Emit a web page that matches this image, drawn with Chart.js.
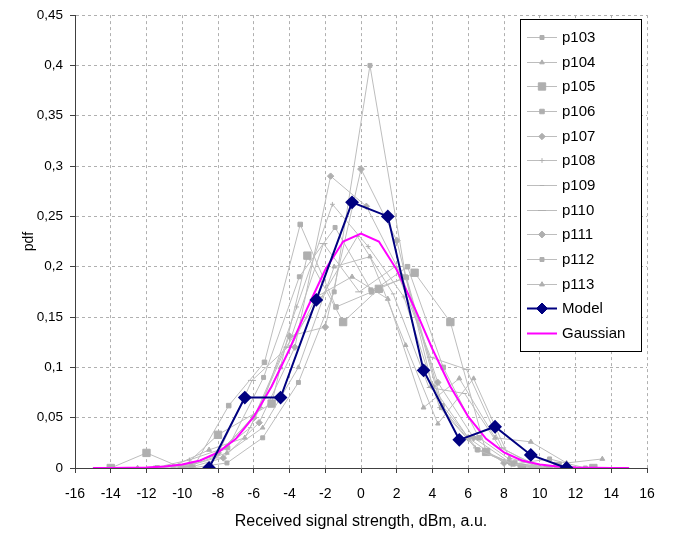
<!DOCTYPE html>
<html>
<head>
<meta charset="utf-8">
<script src="https://cdn.jsdelivr.net/npm/chart.js@4/dist/chart.umd.min.js"></script>
<style>
html,body{margin:0;padding:0;background:#fff;}
#wrap{width:681px;height:535px;position:relative;}
</style>
</head>
<body>
<div id="wrap"><canvas id="c" width="681" height="535"></canvas></div>
<script>
// ---- data ----
const seriesNames = ["p103","p104","p105","p106","p107","p108","p109","p110","p111","p112","p113","Model","Gaussian"];

const p103X = [-9.5,-7.5,-5.5,-3.5,-1.5,0.5,2.5,4.5,6.5,8.5,10.5];
const p103Y = [0,0.005,0.03,0.085,0.175,0.40,0.19,0.06,0.018,0.004,0];

const p104X = [-11.5,-9.5,-7.5,-5.5,-3.5,-1.5,0.5,2.5,4.3,6.3,8.3,10.3];
const p104Y = [0,0.003,0.015,0.04,0.1,0.2,0.21,0.122,0.044,0.089,0.01,0];

const p105X = [-14,-12,-10,-8,-5,-3,-1,1,3,5,7,9,11,13];
const p105Y = [0,0.015,0,0.033,0.064,0.211,0.145,0.178,0.194,0.145,0.016,0,0.002,0];

const p106X = [-11.4,-9.4,-7.4,-5.4,-3.4,-1.4,0.6,2.6,4.6,6.6,8.6,10.6];
const p106Y = [0,0,0.062,0.105,0.242,0.16,0.175,0.2,0.1,0.03,0.005,0];

const p107X = [-9.7,-7.7,-5.7,-3.7,-1.7,0.3,2.3,4.3,6.3,8.3,10.3];
const p107Y = [0,0.01,0.045,0.12,0.29,0.26,0.19,0.085,0.03,0.006,0];

const p108X = [-11.6,-9.6,-7.6,-5.6,-3.6,-1.6,0.4,2.4,4.4,6.4,8.4,10.4];
const p108Y = [0,0.008,0.02,0.06,0.16,0.262,0.22,0.17,0.06,0.02,0.003,0];

const p109X = [-10.2,-8.2,-6.2,-4.2,-2.2,-0.2,1.8,3.8,5.8,7.8,9.8];
const p109Y = [0.001,0.012,0.04,0.12,0.17,0.23,0.173,0.08,0.074,0.02,0.003];

const p110X = [-10.1,-8.1,-6.1,-4.1,-2.1,-0.1,1.9,3.9,5.9,7.9,9.9];
const p110Y = [0,0.01,0.087,0.12,0.223,0.175,0.2,0.11,0.098,0.02,0];

const p111X = [-10,-8,-6,-4,-2,0,2,4,6,8,10];
const p111Y = [0,0.015,0.05,0.131,0.14,0.297,0.226,0.081,0.03,0.005,0];

const p112X = [-11.45,-9.45,-7.45,-5.45,-3.45,-1.45,0.55,2.55,4.55,6.55,8.55,10.55,12.55];
const p112Y = [0,0.004,0.02,0.09,0.19,0.239,0.177,0.189,0.062,0.018,0.004,0.009,0];

const p113X = [-12.5,-10.5,-8.5,-6.5,-4.5,-2.5,-0.5,1.5,3.5,5.5,7.5,9.5,11.5,13.5];
const p113Y = [0,0.002,0.018,0.03,0.1,0.17,0.19,0.168,0.06,0.089,0.03,0.026,0.005,0.009];

const modelX = [-8.5,-6.5,-4.5,-2.5,-0.5,1.5,3.5,5.5,7.5,9.5,11.5];
const modelY = [0,0.07,0.07,0.167,0.264,0.25,0.097,0.028,0.041,0.013,0];

const gaussX = [-15,-14,-13,-12,-11,-10,-9,-8,-7,-6,-5,-4,-3,-2,-1,0,1,2,3,4,5,6,7,8,9,10,11,12,13,14,15];
const gaussY = [0,0.0001,0.0002,0.0005,0.0014,0.0034,0.0075,0.0155,0.029,0.051,0.081,0.118,0.159,0.197,0.225,0.233,0.225,0.197,0.159,0.118,0.081,0.051,0.029,0.0155,0.0075,0.0034,0.0014,0.0005,0.0002,0.0001,0];

const xTickValues = [-16,-14,-12,-10,-8,-6,-4,-2,0,2,4,6,8,10,12,14,16];
const yTickLabels = ["0","0,05","0,1","0,15","0,2","0,25","0,3","0,35","0,4","0,45"];

// ---- styles ----
const FONT = "'Liberation Sans', Arial, sans-serif";
const GREY_LINE = "#bdbdbd";
const GREY_PT = "#afafaf";
const greyStyles = [
  {ps:"rect", r:2.8},
  {ps:"triangle", r:2.6},
  {ps:"rect", r:5.2},
  {ps:"rect", r:3.2},
  {ps:"rectRot", r:3.2},
  {ps:"cross", r:2.4},
  {ps:"line", r:2.2},
  {ps:"line", r:4},
  {ps:"rectRot", r:3.4},
  {ps:"rect", r:2.8},
  {ps:"triangle", r:2.8}
];
const greyData = [[p103X,p103Y],[p104X,p104Y],[p105X,p105Y],[p106X,p106Y],[p107X,p107Y],[p108X,p108Y],[p109X,p109Y],[p110X,p110Y],[p111X,p111Y],[p112X,p112Y],[p113X,p113Y]];

function pts(xs, ys){ return xs.map((x,i)=>({x:x, y:ys[i]})); }

const datasets = greyData.map((d,i)=>({
  label: seriesNames[i],
  data: pts(d[0], d[1]),
  showLine: true,
  borderColor: GREY_LINE,
  borderWidth: 1,
  pointStyle: greyStyles[i].ps,
  pointRadius: greyStyles[i].r,
  pointBackgroundColor: GREY_PT,
  pointBorderColor: GREY_PT,
  pointBorderWidth: 1,
  tension: 0,
  order: 2
}));
datasets.push({
  label: "Model",
  data: pts(modelX, modelY),
  showLine: true,
  borderColor: "#000080",
  borderWidth: 2,
  pointStyle: "rectRot",
  pointRadius: 5.5,
  pointBackgroundColor: "#000080",
  pointBorderColor: "#000080",
  tension: 0,
  order: 0
});
datasets.push({
  label: "Gaussian",
  data: pts(gaussX, gaussY),
  showLine: true,
  borderColor: "#ff00ff",
  borderWidth: 2,
  pointRadius: 0,
  tension: 0,
  order: 1
});

const legendPlugin = {
  id: "boxLegend",
  afterDraw(chart){
    const ctx = chart.ctx;
    const bx = 520.5, by = 19.5, bw = 121, bh = 332;
    ctx.save();
    ctx.fillStyle = "#ffffff";
    ctx.fillRect(bx, by, bw, bh);
    ctx.strokeStyle = "#000000";
    ctx.lineWidth = 1;
    ctx.strokeRect(bx, by, bw, bh);
    ctx.font = "15px " + FONT;
    ctx.textBaseline = "middle";
    ctx.textAlign = "left";
    chart.data.datasets.forEach((ds, i)=>{
      const y = Math.round(37 + i*24.67);
      ctx.strokeStyle = ds.borderColor;
      ctx.lineWidth = ds.borderWidth;
      ctx.setLineDash([]);
      ctx.beginPath();
      ctx.moveTo(527, y + 0.5);
      ctx.lineTo(557, y + 0.5);
      ctx.stroke();
      if (ds.pointRadius > 0 && Chart.helpers && Chart.helpers.drawPoint) {
        ctx.fillStyle = ds.pointBackgroundColor;
        ctx.strokeStyle = ds.pointBorderColor;
        ctx.lineWidth = 1;
        Chart.helpers.drawPoint(ctx, {pointStyle: ds.pointStyle, radius: ds.pointRadius, rotation: 0, borderWidth: 1}, 542, y + 0.5);
      }
      ctx.fillStyle = "#000000";
      ctx.fillText(ds.label, 562, y + 1);
    });
    ctx.restore();
  }
};

new Chart(document.getElementById("c"), {
  type: "scatter",
  data: { datasets: datasets },
  plugins: [legendPlugin],
  options: {
    responsive: false,
    animation: false,
    events: [],
    layout: { padding: { top: 12, right: 34, left: 0, bottom: 0 } },
    plugins: { legend: { display: false }, tooltip: { enabled: false } },
    scales: {
      x: {
        type: "linear",
        min: -16, max: 16,
        afterBuildTicks(s){ s.ticks = xTickValues.map(v=>({value:v})); },
        afterFit(s){ s.height = 67; },
        ticks: { color: "#000", font: { family: FONT, size: 14 }, padding: 13, maxRotation: 0,
                 callback: v => String(v) },
        grid: { color: "#b0b0b0", lineWidth: 1, tickLength: 5, tickColor: "#404040" },
        border: { color: "#404040", width: 1, dash: [3,3] },
        title: { display: true, text: "Received signal strength, dBm, a.u.", color: "#000",
                 font: { family: FONT, size: 16 }, padding: { top: 0, bottom: 4 } }
      },
      y: {
        type: "linear",
        min: 0, max: 0.45,
        afterBuildTicks(s){ s.ticks = yTickLabels.map((t,i)=>({value: i*0.05})); },
        afterFit(s){ s.width = 75; },
        ticks: { color: "#000", font: { family: FONT, size: 13.5 }, padding: 7,
                 callback: (v, i) => yTickLabels[i] },
        grid: { color: "#b0b0b0", lineWidth: 1, tickLength: 5, tickColor: "#404040" },
        border: { color: "#404040", width: 1, dash: [3,3] },
        title: { display: true, text: "pdf", color: "#000",
                 font: { family: FONT, size: 14 }, padding: { top: 21, bottom: 0 } }
      }
    }
  }
});
</script>
</body>
</html>
